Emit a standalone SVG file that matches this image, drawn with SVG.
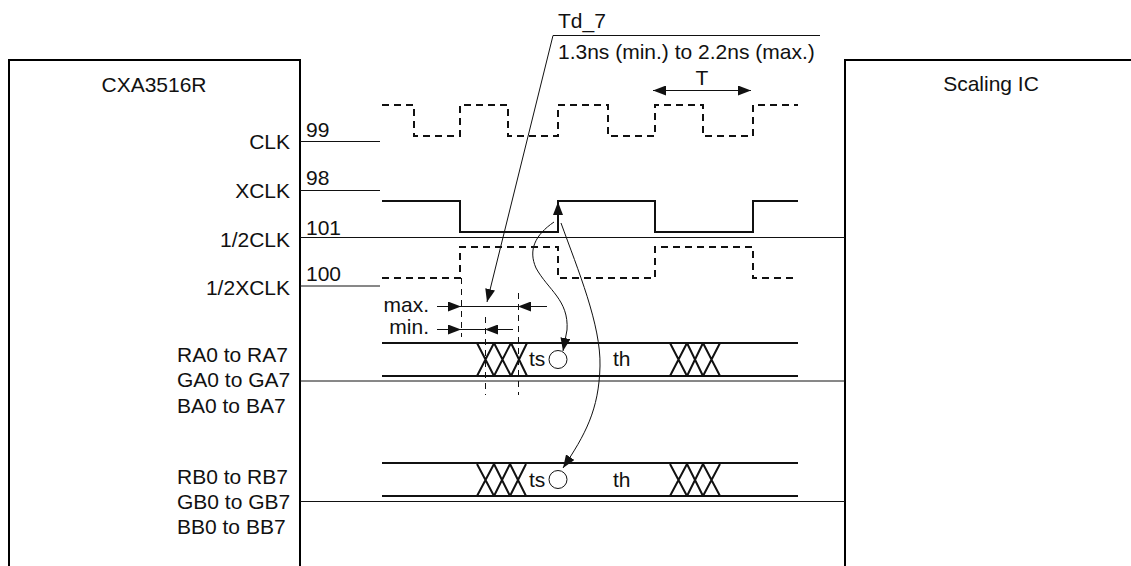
<svg xmlns="http://www.w3.org/2000/svg" width="1131" height="566" viewBox="0 0 1131 566">
<style>
text{font-family:"Liberation Sans",Arial,sans-serif;font-size:21px;fill:#111}
.t{fill:none;stroke:#111;stroke-width:1}
.b{fill:none;stroke:#000;stroke-width:2}
.w{fill:none;stroke:#111;stroke-width:2}
.d{fill:none;stroke:#111;stroke-width:2;stroke-dasharray:7 5}
.v{fill:none;stroke:#111;stroke-width:1;stroke-dasharray:6 5}
.e{text-anchor:end}
.m{text-anchor:middle}
</style>
<defs>
<marker id="a" markerUnits="userSpaceOnUse" markerWidth="14" markerHeight="10" refX="13" refY="5" orient="auto"><path d="M0 0L13 5L0 10Z" fill="#111"/></marker>
</defs>
<rect width="1131" height="566" fill="#fff"/>
<g id="cxa3516r">
<path class="b" d="M9 566V60H300V566"/>
<text x="154" y="92" class="m">CXA3516R</text>
<text x="290" y="149" class="e">CLK</text>
<text x="290" y="198" class="e">XCLK</text>
<text x="290" y="247" class="e">1/2CLK</text>
<text x="290" y="295" class="e">1/2XCLK</text>
<text x="177" y="362">RA0 to RA7</text>
<text x="177" y="387">GA0 to GA7</text>
<text x="177" y="413">BA0 to BA7</text>
<text x="177" y="484">RB0 to RB7</text>
<text x="177" y="509">GB0 to GB7</text>
<text x="177" y="534">BB0 to BB7</text>
</g>
<g id="scaling-ic">
<path class="b" d="M845 566V60H1131"/>
<text x="991" y="91" class="m">Scaling IC</text>
</g>
<g id="connectors">
<path class="t" d="M300 141.5H380M300 190.5H380M300 237.5H845M300 286H380M300 381H845M300 501.5H845"/>
<text x="306" y="137">99</text>
<text x="306" y="185">98</text>
<text x="306" y="235">101</text>
<text x="306" y="281">100</text>
</g>
<g id="waveforms">
<path class="d" d="M382 105H414V136H460V105H508V136H558V105H608V136H655V105H703V136H753V105H798"/>
<path class="w" d="M382 201H460V232H558V201H655V232H753V201H798"/>
<path class="d" d="M382 278H460V247H558V278H655V247H753V278H798"/>
<path class="w" d="M382 343H798M382 376H798M382 463H798M382 496H798"/>
<path class="w" d="M477 376L494 343M494 376L477 343M494 376L511 343M511 376L494 343M511 376L527 343M527 376L511 343"/>
<path class="w" d="M477 496L494 464M494 496L477 464M494 496L510 464M510 496L494 464M510 496L526 464M526 496L510 464"/>
<path class="w" d="M670 376L687 343M687 376L670 343M687 376L703 343M703 376L687 343M703 376L720 343M720 376L703 343"/>
<path class="w" d="M670 496L687 464M687 496L670 464M687 496L703 464M703 496L687 464M703 496L720 464M720 496L703 464"/>
<text x="529" y="366">ts</text>
<circle class="t" cx="558" cy="359.5" r="9"/>
<text x="613" y="366">th</text>
<text x="529" y="487">ts</text>
<circle class="t" cx="558" cy="479.5" r="9"/>
<text x="613" y="487">th</text>
</g>
<g id="annotations">
<text x="558" y="28">Td_7</text>
<text x="558" y="59">1.3ns (min.) to 2.2ns (max.)</text>
<path class="t" d="M820 35.5H553L487 302" marker-end="url(#a)"/>
<text x="702" y="85" class="m">T</text>
<path class="t" d="M702 90.5H653" marker-end="url(#a)"/>
<path class="t" d="M702 90.5H751" marker-end="url(#a)"/>
<path class="t" d="M554 222C535 235 528 250 536 268C548 290 569 300 567 330L563 351" marker-end="url(#a)"/>
<path class="t" d="M561 223C578 270 601 325 600 366C599 410 585 435 563 468" marker-end="url(#a)"/>
<path d="M558 202L553 215H563Z" fill="#111"/>
<path class="w" d="M558 232V214"/>
<path class="v" d="M461.5 278V337M485.5 317V395M518.5 293V395"/>
<text x="429" y="312" class="e">max.</text>
<text x="429" y="334" class="e">min.</text>
<path class="t" d="M437 306.5H461" marker-end="url(#a)"/>
<path class="t" d="M461 306.5H518"/>
<path class="t" d="M547 306.5H518" marker-end="url(#a)"/>
<path class="t" d="M437 329.5H461" marker-end="url(#a)"/>
<path class="t" d="M461 329.5H513"/>
<path class="t" d="M513 329.5H485" marker-end="url(#a)"/>
</g>
</svg>
